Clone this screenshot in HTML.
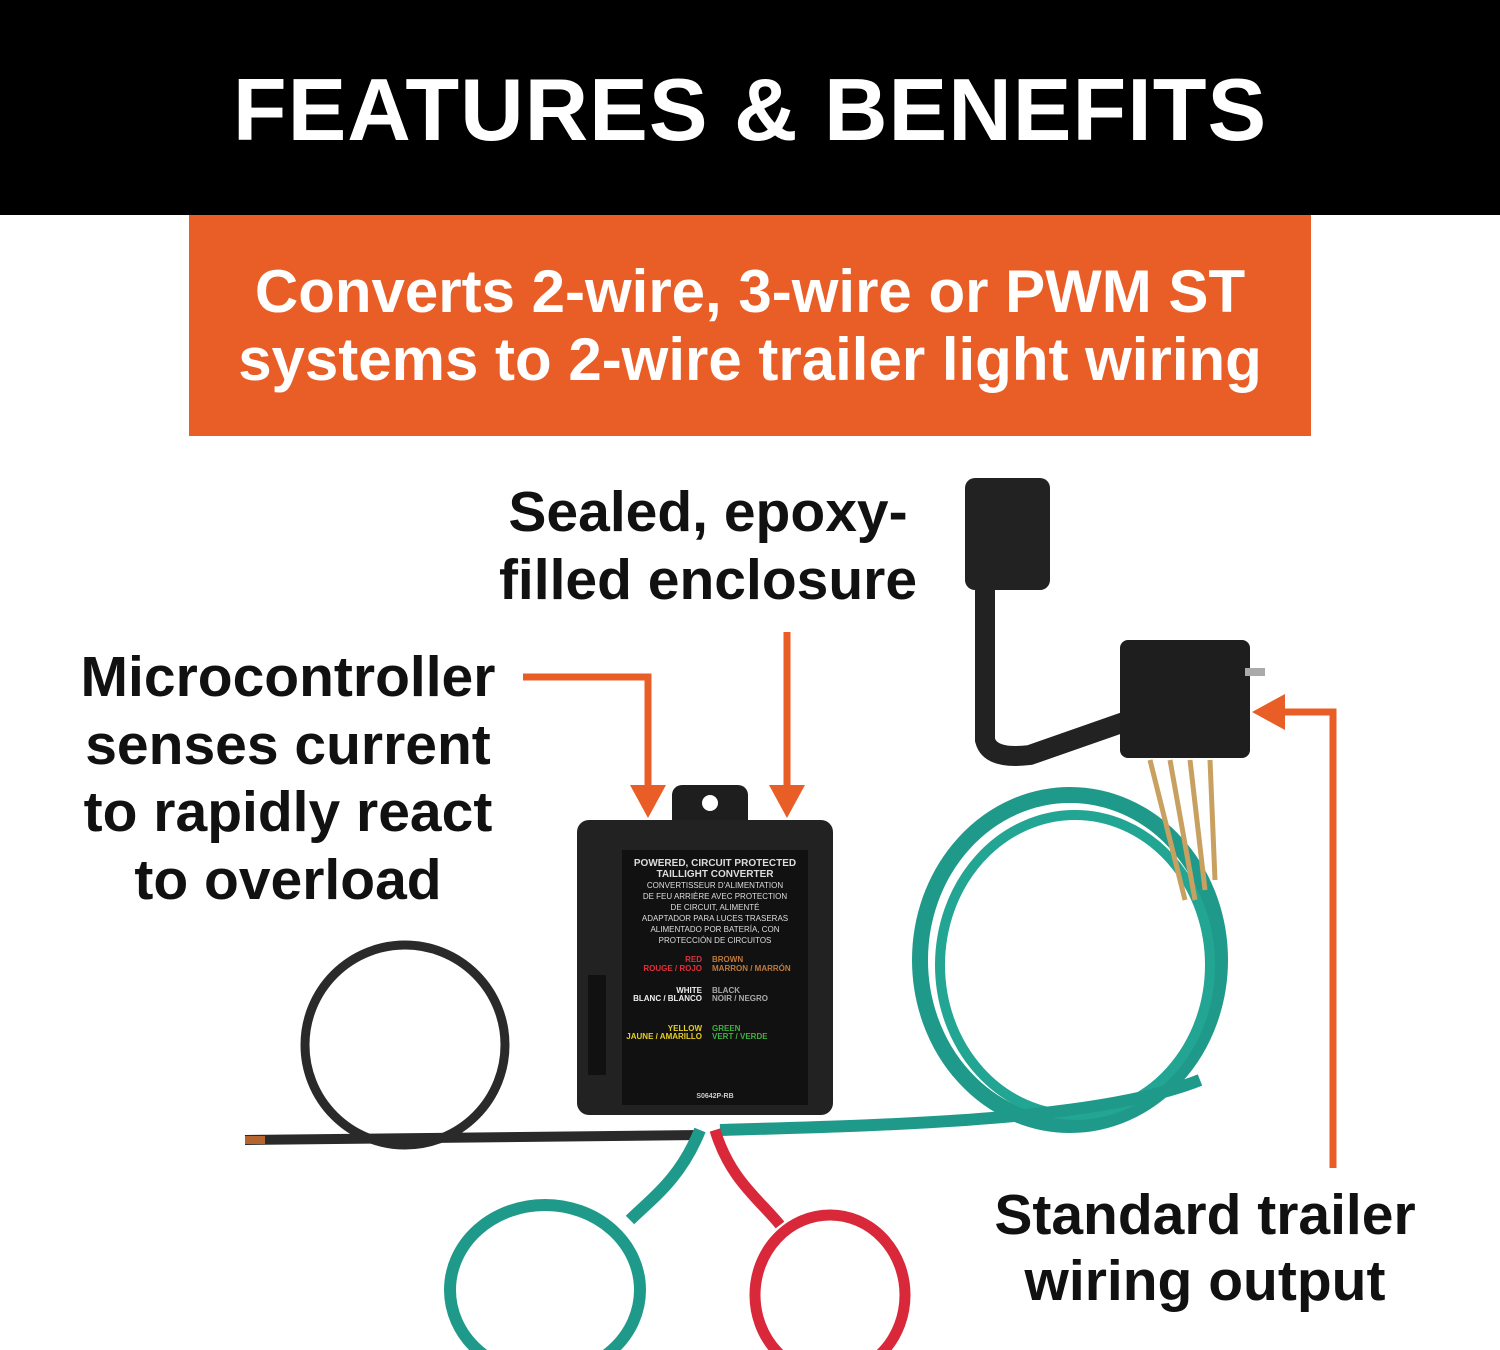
<!DOCTYPE html>
<html><head><meta charset="utf-8"><style>
html,body{margin:0;padding:0;background:#fff;}
body{width:1500px;height:1350px;position:relative;overflow:hidden;font-family:"Liberation Sans","DejaVu Sans",sans-serif;}
.t{position:absolute;font-weight:bold;text-align:center;white-space:nowrap;}
</style></head><body>
<div style="position:absolute;left:0;top:0;width:1500px;height:215px;background:#000"></div>
<div class="t" style="left:0;width:1500px;top:60px;font-size:88px;color:#fff;line-height:100px;letter-spacing:1px">FEATURES &amp; BENEFITS</div>
<div style="position:absolute;left:189px;top:215px;width:1122px;height:221px;background:#e95e27"></div>
<div class="t" style="left:189px;width:1122px;top:258px;font-size:60px;color:#fff;line-height:68px">Converts 2-wire, 3-wire or PWM ST<br>systems to 2-wire trailer light wiring</div>
<svg width="1500" height="1350" style="position:absolute;left:0;top:0">
<circle cx="405" cy="1045" r="100" fill="none" stroke="#2a2a2a" stroke-width="9"/>
<path d="M245 1140 L700 1135" stroke="#2a2a2a" stroke-width="10" fill="none"/>
<path d="M245 1140 L265 1140" stroke="#b5652f" stroke-width="8"/>
<ellipse cx="1070" cy="960" rx="150" ry="165" fill="none" stroke="#1f9a8a" stroke-width="16"/>
<ellipse cx="1075" cy="965" rx="135" ry="150" fill="none" stroke="#23a593" stroke-width="10"/>
<path d="M720 1130 C900 1125 1100 1120 1200 1080" stroke="#1f9a8a" stroke-width="12" fill="none"/>
<path d="M1150 760 L1185 900 M1170 760 L1195 900 M1190 760 L1205 890 M1210 760 L1215 880" stroke="#c8a060" stroke-width="5"/>
<ellipse cx="545" cy="1290" rx="95" ry="85" fill="none" stroke="#1f9a8a" stroke-width="12"/>
<ellipse cx="830" cy="1295" rx="75" ry="80" fill="none" stroke="#d8283a" stroke-width="11"/>
<path d="M700 1130 C680 1180 650 1200 630 1220" stroke="#1f9a8a" stroke-width="12" fill="none"/>
<path d="M715 1130 C730 1180 760 1200 780 1225" stroke="#d8283a" stroke-width="11" fill="none"/>
<rect x="672" y="785" width="76" height="50" rx="10" fill="#1e1e1e"/>
<circle cx="710" cy="803" r="8" fill="#fff"/>
<rect x="577" y="820" width="256" height="295" rx="12" fill="#222"/>
<rect x="622" y="850" width="186" height="255" fill="#111"/>
<rect x="588" y="975" width="18" height="100" fill="#111"/>
<rect x="965" y="478" width="85" height="112" rx="10" fill="#222"/>
<path d="M985 585 L985 740 Q990 760 1030 755 L1130 720" stroke="#222" stroke-width="20" fill="none"/>
<rect x="1120" y="640" width="130" height="118" rx="8" fill="#1e1e1e"/>
<rect x="1245" y="668" width="20" height="8" fill="#aaa"/>
<g stroke="#e95e27" stroke-width="7" fill="none">
<path d="M523 677 L648 677 L648 790"/>
<path d="M787 632 L787 790"/>
<path d="M1333 1168 L1333 712 L1280 712"/>
</g>
<g fill="#e95e27">
<polygon points="630,785 666,785 648,818"/>
<polygon points="769,785 805,785 787,818"/>
<polygon points="1285,694 1285,730 1252,712"/>
</g>
<g font-family="Liberation Sans, sans-serif" font-size="8" font-weight="bold">
<text x="702" y="962" text-anchor="end" fill="#e0303a">RED</text>
<text x="702" y="971" text-anchor="end" fill="#e0303a">ROUGE / ROJO</text>
<text x="712" y="962" fill="#c07a3a">BROWN</text>
<text x="712" y="971" fill="#c07a3a">MARRON / MARRÓN</text>
<text x="702" y="993" text-anchor="end" fill="#eee">WHITE</text>
<text x="702" y="1001" text-anchor="end" fill="#eee">BLANC / BLANCO</text>
<text x="712" y="993" fill="#aaa">BLACK</text>
<text x="712" y="1001" fill="#aaa">NOIR / NEGRO</text>
<text x="702" y="1031" text-anchor="end" fill="#e8d020">YELLOW</text>
<text x="702" y="1039" text-anchor="end" fill="#e8d020">JAUNE / AMARILLO</text>
<text x="712" y="1031" fill="#40b040">GREEN</text>
<text x="712" y="1039" fill="#40b040">VERT / VERDE</text>
<text x="715" y="1098" text-anchor="middle" fill="#ccc" font-size="7">S0642P-RB</text>
</g>
</svg>
<div class="t" style="left:622px;width:186px;top:858px;font-size:10px;color:#ddd;line-height:11px">POWERED, CIRCUIT PROTECTED<br>TAILLIGHT CONVERTER<br><span style="font-size:8px;font-weight:normal">CONVERTISSEUR D'ALIMENTATION<br>DE FEU ARRIÈRE AVEC PROTECTION<br>DE CIRCUIT, ALIMENTÉ<br>ADAPTADOR PARA LUCES TRASERAS<br>ALIMENTADO POR BATERÍA, CON<br>PROTECCIÓN DE CIRCUITOS</span></div>
<div class="t" style="left:0;width:1416px;top:478px;font-size:57px;color:#111;line-height:68px">Sealed, epoxy-<br>filled enclosure</div>
<div class="t" style="left:58px;width:460px;top:644px;font-size:57px;color:#111;line-height:67.5px">Microcontroller<br>senses current<br>to rapidly react<br>to overload</div>
<div class="t" style="left:960px;width:490px;top:1182px;font-size:57px;color:#111;line-height:66px">Standard trailer<br>wiring output</div>
</body></html>
